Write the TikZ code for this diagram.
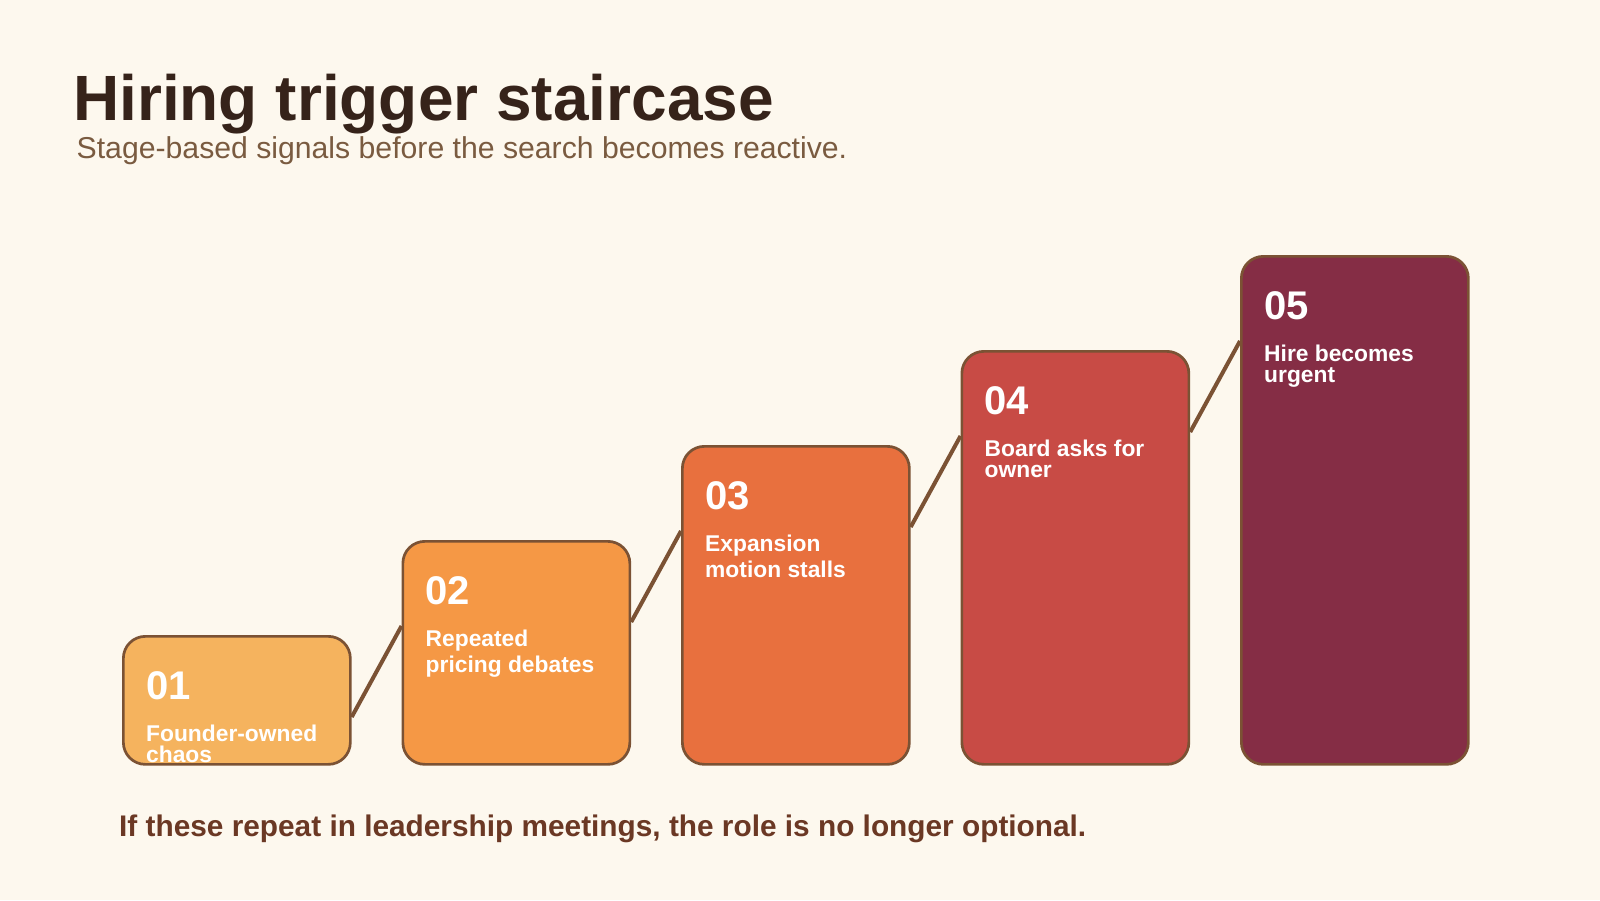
\documentclass[tikz,border=0pt]{standalone}
\usepackage{fontspec}
\setmainfont{Liberation Sans}
\usetikzlibrary{calc}
\definecolor{bg}{HTML}{FDF8EE}
\definecolor{edge}{HTML}{7B5234}
\definecolor{titlec}{HTML}{36231A}
\definecolor{subc}{HTML}{7A5B40}
\definecolor{footc}{HTML}{6B3824}
\definecolor{c1}{HTML}{F5B35E}
\definecolor{c2}{HTML}{F59845}
\definecolor{c3}{HTML}{E8703E}
\definecolor{c4}{HTML}{C84B45}
\definecolor{c5}{HTML}{852D45}
\begin{document}
\begin{tikzpicture}[x=1pt,y=-1pt,
  stepbox/.style={draw=edge, line width=2.7pt, rounded corners=22pt, minimum width=227pt, anchor=north west, inner sep=0pt},
  conn/.style={draw=edge, line width=4pt},
  numtxt/.style={text=white, inner sep=0pt, anchor=base west, font=\fontsize{40}{40}\selectfont\bfseries},
  steptxt/.style={text=white, inner sep=0pt, anchor=base west, font=\fontsize{22.8}{22.8}\selectfont\bfseries},
  plain/.style={inner sep=0pt, anchor=base west}]
\useasboundingbox (0,0) rectangle (1600,900);
\fill[bg] (0,0) rectangle (1600,900);
\node[plain, text=titlec, font=\fontsize{64}{64}\selectfont\bfseries] (title) at (73,120.5) {Hiring trigger staircase};
\node[plain, text=subc, font=\fontsize{30.2}{30.2}\selectfont] (sub) at (76.5,158) {Stage-based signals before the search becomes reactive.};
\node[plain, text=footc, font=\fontsize{29.8}{29.8}\selectfont\bfseries] (foot) at (119,836.5) {If these repeat in leadership meetings, the role is no longer optional.};
\foreach \i/\c/\n/\la/\lb/\dd in {1/c1/01/Founder-owned/chaos/127,
                                  2/c2/02/Repeated/pricing debates/132,
                                  3/c3/03/Expansion/motion stalls/132,
                                  4/c4/04/Board asks for/owner/127,
                                  5/c5/05/Hire becomes/urgent/127}{
  \pgfmathsetmacro{\xx}{122+279.5*(\i-1)}
  \pgfmathsetmacro{\yy}{635-95*(\i-1)}
  \pgfmathsetmacro{\hh}{763-\yy}
  \node[stepbox, fill=\c, minimum height=\hh pt] (b\i) at (\xx,\yy) {};
  \node[numtxt] (n\i) at ($(b\i.north west)+(24,64.5)$) {\n};
  \node[steptxt] (la\i) at ($(b\i.north west)+(24,106.5)$) {\la};
  \node[steptxt] (lb\i) at ($(b\i.north west)+(24,\dd)$) {\lb};
}
\foreach \i/\j in {1/2,2/3,3/4,4/5}{
  \draw[conn] ($(b\i.north east)+(0,82)$) -- ($(b\j.north west)+(0,86)$);
}
\end{tikzpicture}
\end{document}
